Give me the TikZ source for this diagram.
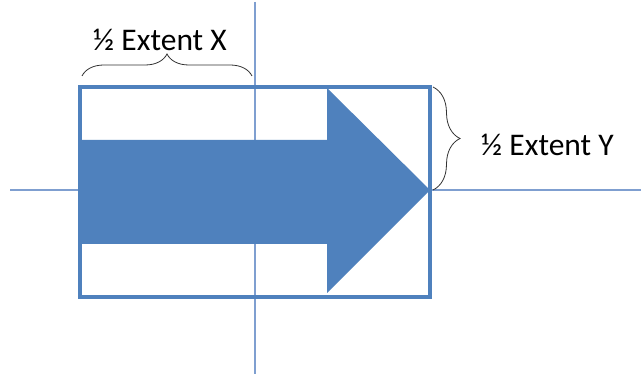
\documentclass[tikz,border=0pt]{standalone}
\usepackage{fontspec}
\setmainfont{Carlito}
\usetikzlibrary{decorations.pathreplacing}
\definecolor{accent}{HTML}{4F81BD}
\definecolor{axisc}{HTML}{7F9FD0}
\tikzset{
  axisline/.style={draw=axisc, line width=1.1pt},
  boxline/.style={draw=accent, line width=3.5pt},
  bracel/.style={draw=black!80, line width=0.8pt, decorate},
  lbl/.style={font=\fontsize{31.5}{36}\selectfont, inner sep=0pt},
}
\begin{document}
\begin{tikzpicture}[x=1pt,y=-1pt]
\useasboundingbox (0,0) rectangle (643,374);
\fill[white] (0,0) rectangle (643,374);
% axes
\coordinate (vt) at (255,2);
\coordinate (vb) at (255,374);
\coordinate (hl) at (10,190);
\coordinate (hr) at (641,190);
\draw[axisline] (hl) -- (hr);
\draw[axisline] (vt) -- (vb);
% arrow
\fill[accent] (80,140) -- (327,140) -- (327,88) -- (430,190) -- (327,293) -- (327,244) -- (80,244) -- cycle;
% box
\draw[boxline] (80,87) rectangle (430,297);
% braces
\coordinate (bx1) at (82,76);
\coordinate (bx2) at (252,76);
\draw[bracel, decoration={brace, amplitude=22pt}] (bx1) -- (bx2);
\coordinate (by1) at (433,87);
\coordinate (by2) at (433,190);
\draw[bracel, decoration={brace, amplitude=27pt}] (by1) -- (by2);
% labels
\node[lbl] (lx) at (160,40) {½ Extent X};
\node[lbl, anchor=west] (ly) at (481,145) {½ Extent Y};
\end{tikzpicture}
\end{document}
